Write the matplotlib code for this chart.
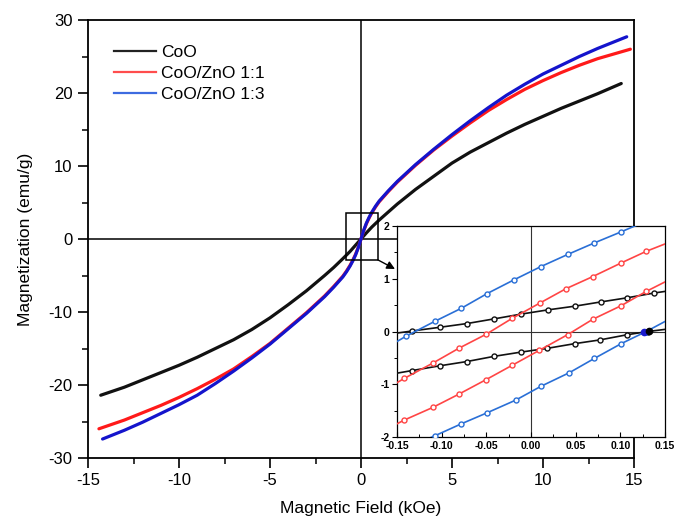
import matplotlib
matplotlib.use("Agg")
import matplotlib.pyplot as plt
from matplotlib.ticker import MultipleLocator, FixedLocator
from matplotlib.patches import Rectangle

plt.rcParams['font.family'] = ['Liberation Sans', 'DejaVu Sans']
plt.rcParams['axes.unicode_minus'] = False

# ---------------- main loop data (kOe, emu/g) ----------------
labels = ["CoO", "CoO/ZnO 1:1", "CoO/ZnO 1:3"]

H_coo = [-14.3, -13, -12, -11, -10, -9, -8, -7, -6, -5, -4, -3, -2, -1.5, -1, -0.6, -0.3, 0,
         0.3, 0.6, 1, 1.5, 2, 3, 4, 5, 6, 7, 8, 9, 10, 11, 12, 13, 14.3]
M_coo = [-21.4, -20.3, -19.3, -18.3, -17.3, -16.2, -15.0, -13.8, -12.4, -10.8, -9.0, -7.1, -5.0, -3.9, -2.7, -1.7, -0.85, 0,
         0.85, 1.65, 2.6, 3.7, 4.8, 6.8, 8.6, 10.4, 11.9, 13.2, 14.5, 15.7, 16.8, 17.9, 18.9, 19.9, 21.3]

H_11 = [-14.4, -13, -12, -11, -10, -9, -8, -7, -6, -5, -4, -3, -2, -1.5, -1.25, -1, -0.8, -0.6, -0.45, -0.3, -0.15, 0,
        0.15, 0.3, 0.45, 0.6, 0.8, 1, 1.25, 1.5, 2, 3, 4, 5, 6, 7, 8, 9, 10, 11, 12, 13, 14.8]
M_11 = [-26.0, -24.8, -23.8, -22.8, -21.7, -20.5, -19.2, -17.8, -16.1, -14.3, -12.2, -10.1, -7.8, -6.5, -5.8, -5.1, -4.4, -3.6, -2.9, -2.1, -1.15, 0,
        1.15, 2.1, 2.9, 3.6, 4.4, 5.1, 5.8, 6.5, 7.8, 10.1, 12.2, 14.1, 15.9, 17.6, 19.1, 20.5, 21.7, 22.8, 23.8, 24.7, 26.0]

H_13 = [-14.2, -13, -12, -11, -10, -9, -8, -7, -6, -5, -4, -3, -2, -1.5, -1.25, -1, -0.8, -0.6, -0.45, -0.3, -0.15, 0,
        0.15, 0.3, 0.45, 0.6, 0.8, 1, 1.25, 1.5, 2, 3, 4, 5, 6, 7, 8, 9, 10, 11, 12, 13, 14.6]
M_13 = [-27.4, -26.2, -25.1, -23.9, -22.7, -21.4, -19.8, -18.1, -16.3, -14.4, -12.3, -10.2, -7.9, -6.6, -5.9, -5.2, -4.5, -3.7, -3.0, -2.2, -1.2, 0,
        1.2, 2.2, 3.0, 3.7, 4.5, 5.2, 5.9, 6.6, 7.9, 10.2, 12.3, 14.3, 16.2, 18.0, 19.7, 21.2, 22.6, 23.8, 25.0, 26.1, 27.7]

# ---------------- inset data (low-field branches) ----------------
Hi_coo_up = [-0.15, -0.133, -0.102, -0.072, -0.041, -0.011, 0.019, 0.049, 0.078, 0.108, 0.138, 0.15]
Mi_coo_up = [-0.03, 0.01, 0.08, 0.15, 0.24, 0.33, 0.41, 0.48, 0.56, 0.64, 0.73, 0.76]
Hi_coo_dn = [-0.15, -0.133, -0.102, -0.072, -0.041, -0.011, 0.018, 0.049, 0.077, 0.108, 0.131, 0.15]
Mi_coo_dn = [-0.79, -0.74, -0.65, -0.57, -0.47, -0.39, -0.32, -0.23, -0.16, -0.06, 0.00, 0.04]

Hi_11_up = [-0.15, -0.142, -0.110, -0.081, -0.050, -0.021, 0.010, 0.039, 0.069, 0.101, 0.129, 0.15]
Mi_11_up = [-0.97, -0.89, -0.60, -0.32, -0.05, 0.25, 0.54, 0.81, 1.04, 1.30, 1.52, 1.66]
Hi_11_dn = [-0.15, -0.142, -0.110, -0.081, -0.050, -0.021, 0.009, 0.041, 0.069, 0.101, 0.129, 0.15]
Mi_11_dn = [-1.75, -1.68, -1.44, -1.19, -0.91, -0.64, -0.36, -0.06, 0.23, 0.49, 0.76, 0.94]

Hi_13_up = [-0.15, -0.140, -0.108, -0.078, -0.049, -0.019, 0.011, 0.041, 0.071, 0.101, 0.13]
Mi_13_up = [-0.19, -0.09, 0.19, 0.44, 0.72, 0.98, 1.23, 1.46, 1.68, 1.89, 2.10]
Hi_13_dn = [-0.115, -0.108, -0.078, -0.049, -0.017, 0.011, 0.043, 0.071, 0.101, 0.129, 0.15]
Mi_13_dn = [-2.03, -1.98, -1.75, -1.54, -1.30, -1.04, -0.78, -0.51, -0.23, 0.00, 0.19]

Hc_dots = [0.127, 0.132]
Mc_dots = [0.0, 0.01]

main_colors = ['#111111', '#ff1a1a', '#1414cc']
inset_colors = ['#111111', '#ff4545', '#2a6fd6']
legend_colors = ['#222222', '#ff4d4d', '#3d6be0']

fig = plt.figure(figsize=(6.78, 5.2), dpi=100)
ax = fig.add_axes([88/678, 1-458/520, 546/678, 438/520])

ax.axhline(0, color='black', lw=1.1, zorder=1)
ax.axvline(0, color='black', lw=1.1, zorder=1)
for H, M, c in zip([H_coo, H_11, H_13], [M_coo, M_11, M_13], main_colors):
    ax.plot(H, M, color=c, lw=2.3, zorder=3, solid_capstyle='round', solid_joinstyle='round')

ax.set_xlim(-15, 15)
ax.set_ylim(-30, 30)
ax.xaxis.set_major_locator(MultipleLocator(5))
ax.xaxis.set_minor_locator(MultipleLocator(2.5))
ax.yaxis.set_major_locator(MultipleLocator(10))
ax.yaxis.set_minor_locator(MultipleLocator(5))
ax.tick_params(which='major', direction='out', length=7, width=1.2, labelsize=12, pad=4)
ax.tick_params(which='minor', direction='out', length=4, width=1.1)
for s in ax.spines.values():
    s.set_linewidth(1.3)
ax.set_xlabel('Magnetic Field (kOe)', fontsize=12.5, labelpad=9)
ax.set_ylabel('Magnetization (emu/g)', fontsize=12.5, labelpad=11)

# legend
handles = [plt.Line2D([], [], color=c, lw=1.6) for c in legend_colors]
ax.legend(handles, labels, loc='upper left', bbox_to_anchor=(0.035, 0.958), frameon=False,
          fontsize=12.5, handlelength=2.4, handletextpad=0.3, labelspacing=0.33, borderaxespad=0)

# zoom rectangle and arrow
ax.add_patch(Rectangle((-0.8, -2.85), 1.72, 6.4, fill=False, ec='black', lw=1.1, zorder=4))
ax.annotate('', xy=(395/678, 1-269/520), xycoords='figure fraction',
            xytext=(0.92, -2.85), textcoords='data',
            arrowprops=dict(arrowstyle='-|>', color='black', lw=1.0, mutation_scale=12,
                            shrinkA=0, shrinkB=0), zorder=5)

# inset
axi = fig.add_axes([397/678, 1-437/520, 268/678, 211/520])
axi.set_facecolor('white')
axi.axhline(0, color='#333333', lw=0.8, zorder=1)
axi.axvline(0, color='#333333', lw=0.8, zorder=1)
branches = [(Hi_coo_up, Mi_coo_up, 0), (Hi_coo_dn, Mi_coo_dn, 0),
            (Hi_11_up, Mi_11_up, 1), (Hi_11_dn, Mi_11_dn, 1),
            (Hi_13_up, Mi_13_up, 2), (Hi_13_dn, Mi_13_dn, 2)]
for H, M, k in branches:
    c = inset_colors[k]
    axi.plot(H, M, color=c, lw=1.2, marker='o', markersize=3.6, mfc='white', mec=c, mew=1.0,
             markevery=slice(1, len(H) - 1), zorder=3)
axi.plot(Hc_dots[:1], Mc_dots[:1], 'o', color='#1a1acc', markersize=4.5, zorder=4)
axi.plot(Hc_dots[1:], Mc_dots[1:], 'o', color='black', markersize=4.5, zorder=4)
axi.set_xlim(-0.15, 0.15)
axi.set_ylim(-2, 2)
axi.xaxis.set_major_locator(FixedLocator([-0.15, -0.10, -0.05, 0.0, 0.05, 0.10, 0.15]))
axi.xaxis.set_minor_locator(MultipleLocator(0.025))
axi.yaxis.set_major_locator(MultipleLocator(1))
axi.yaxis.set_minor_locator(MultipleLocator(0.5))
axi.set_xticklabels(['-0.15', '-0.10', '-0.05', '0.00', '0.05', '0.10', '0.15'])
axi.tick_params(axis='x', which='both', direction='in', labelsize=7.5, pad=3)
axi.tick_params(axis='y', which='both', direction='out', labelsize=7.5, pad=2)
axi.tick_params(which='major', length=3.5, width=0.8)
axi.tick_params(which='minor', length=2, width=0.7)
for lab in axi.get_xticklabels() + axi.get_yticklabels():
    lab.set_fontweight('bold')
for s in axi.spines.values():
    s.set_linewidth(0.9)

fig.savefig('out.png', dpi=100)
